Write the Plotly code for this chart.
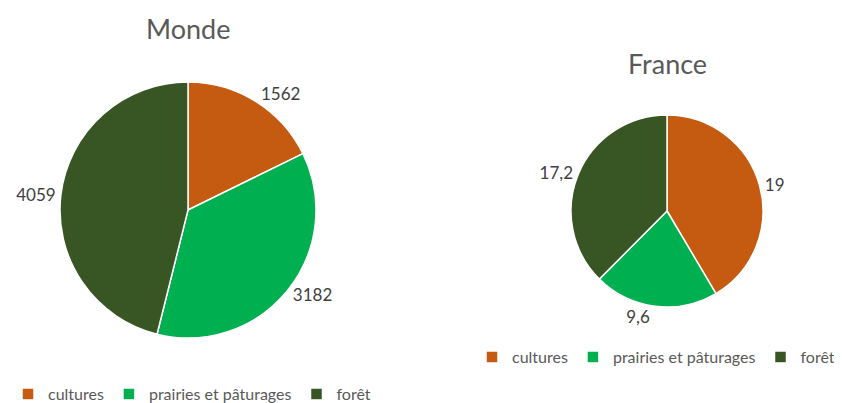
import plotly.graph_objects as go

categories = ["cultures", "prairies et pâturages", "forêt"]
monde_values = [1562, 3182, 4059]
france_values = [19, 9.6, 17.2]
france_text = ["19", "9,6", "17,2"]
colors = ["#C55A11", "#00B050", "#375623"]

# the page body has an 8px margin, so the figure is shifted by 8px
OFF = 8
W, H = 842 - OFF, 403 - OFF
FONT = "Lato, Open Sans, sans-serif"

def px(sx):
    return (sx - OFF) / W

def py(sy):
    return (H - (sy - OFF)) / H

def dom(cx, cy, r):
    return dict(x=[px(cx - r), px(cx + r)], y=[py(cy + r), py(cy - r)])

fig = go.Figure()
fig.add_trace(go.Pie(
    labels=categories, values=monde_values, text=[str(v) for v in monde_values],
    textinfo="text", textposition="outside", sort=False, direction="clockwise",
    rotation=0, marker=dict(colors=colors, line=dict(color="white", width=1.5)),
    domain=dom(188, 210, 128), legend="legend",
    textfont=dict(family=FONT, size=17, color="#404040"), showlegend=True,
))
# zero-width space keeps the second legend's items distinct from the first
fig.add_trace(go.Pie(
    labels=[c + "\u200b" for c in categories], values=france_values, text=france_text,
    textinfo="text", textposition="outside", sort=False, direction="clockwise",
    rotation=0, marker=dict(colors=colors, line=dict(color="white", width=1.5)),
    domain=dom(667, 211, 96), legend="legend2",
    textfont=dict(family=FONT, size=17, color="#404040"), showlegend=True,
))

fig.update_layout(
    width=W, height=H, margin=dict(l=0, r=0, t=0, b=0, autoexpand=False),
    paper_bgcolor="white", plot_bgcolor="white",
    font=dict(family=FONT, color="#595959"),
    legend=dict(orientation="h", x=px(8), y=py(394), xanchor="left", yanchor="middle",
                font=dict(size=16, color="#595959"), itemwidth=30, bgcolor="rgba(0,0,0,0)"),
    legend2=dict(orientation="h", x=px(472), y=py(357), xanchor="left", yanchor="middle",
                 font=dict(size=16, color="#595959"), itemwidth=30, bgcolor="rgba(0,0,0,0)"),
    annotations=[
        dict(text="Monde", x=px(188), y=py(28), xref="paper", yref="paper",
             xanchor="center", yanchor="middle",
             showarrow=False, font=dict(size=27, color="#595959", family=FONT)),
        dict(text="France", x=px(667), y=py(64), xref="paper", yref="paper",
             xanchor="center", yanchor="middle",
             showarrow=False, font=dict(size=27, color="#595959", family=FONT)),
    ],
)

fig.write_html("out.html")
